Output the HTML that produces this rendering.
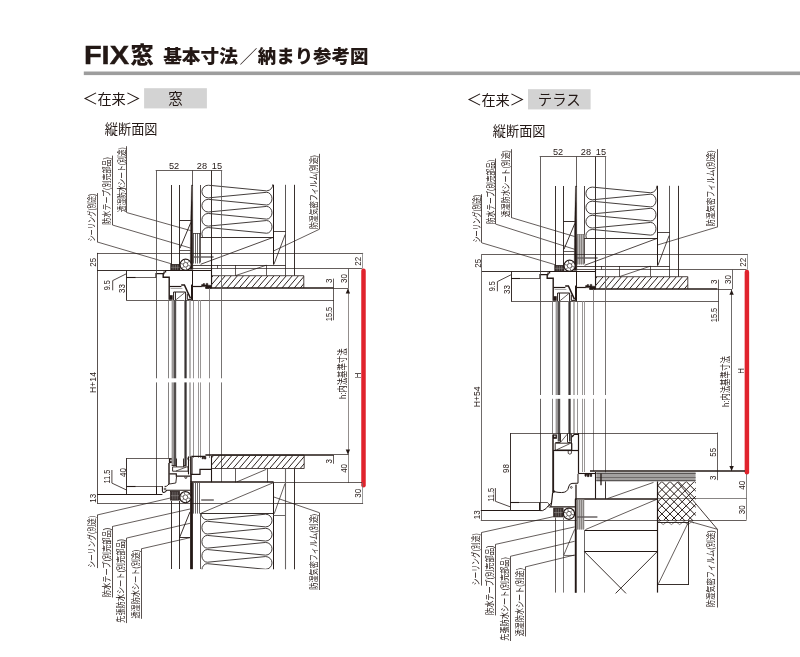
<!DOCTYPE html>
<html lang="ja"><head><meta charset="utf-8"><title>FIX窓 基本寸法／納まり参考図</title>
<style>
html,body{margin:0;padding:0;background:#fff;}
body{width:800px;height:657px;overflow:hidden;font-family:"Liberation Sans","Noto Sans CJK JP",sans-serif;}
svg{display:block;position:absolute;left:0;top:0;will-change:transform;}
svg text{font-family:"Liberation Sans","Noto Sans CJK JP",sans-serif;}
</style></head><body>
<svg width="800" height="657" viewBox="0 0 800 657">
<text transform="translate(83.9 63.6) scale(1.09 1)" font-size="26.6" font-weight="bold" fill="#231815" stroke="#231815" stroke-width="0.45">FIX</text>
<text x="130.60" y="62.90" font-size="23.2" font-weight="900" fill="#231815">窓</text>
<text x="163.20" y="63.40" font-size="18.7" font-weight="900" fill="#231815">基本寸法</text>
<text x="239.50" y="63.20" font-size="18" font-weight="300" fill="#231815">／</text>
<text x="257.80" y="63.40" font-size="18.45" font-weight="900" fill="#231815">納まり参考図</text>
<rect x="83.80" y="71.50" width="716.20" height="3.60" fill="#9d9d9d" stroke="none" stroke-width="0.6" />
<path d="M96.10 92.90 L85.10 98.50 L96.10 104.10" stroke="#231815" stroke-width="1.05" fill="none" stroke-linejoin="miter"/>
<text x="97.40" y="103.70" font-size="14.2" fill="#231815">在来</text>
<path d="M127.40 92.90 L138.40 98.50 L127.40 104.10" stroke="#231815" stroke-width="1.05" fill="none" stroke-linejoin="miter"/>
<rect x="144.10" y="88.20" width="62.80" height="20.20" fill="#d3d3d3" stroke="none" stroke-width="0.6" />
<text x="175.50" y="103.70" font-size="14.4" text-anchor="middle" fill="#231815">窓</text>
<path d="M480.10 93.90 L469.10 99.50 L480.10 105.10" stroke="#231815" stroke-width="1.05" fill="none" stroke-linejoin="miter"/>
<text x="481.40" y="104.70" font-size="14.2" fill="#231815">在来</text>
<path d="M511.40 93.90 L522.40 99.50 L511.40 105.10" stroke="#231815" stroke-width="1.05" fill="none" stroke-linejoin="miter"/>
<rect x="528.00" y="89.20" width="62.60" height="20.20" fill="#d3d3d3" stroke="none" stroke-width="0.6" />
<text x="559.30" y="104.70" font-size="14.4" text-anchor="middle" fill="#231815">テラス</text>
<text x="104.80" y="134.00" font-size="13.2" fill="#231815">縦断面図</text>
<text x="492.80" y="135.80" font-size="13.2" fill="#231815">縦断面図</text>
<g transform="translate(0.00 0.00)">
<line x1="155.70" y1="170.50" x2="222.20" y2="170.50" stroke="#231815" stroke-width="0.7"/>
<text x="174.00" y="168.60" font-size="9.2" text-anchor="middle" fill="#231815">52</text>
<text x="201.90" y="168.60" font-size="9.2" text-anchor="middle" fill="#231815">28</text>
<text x="216.90" y="168.60" font-size="9.2" text-anchor="middle" fill="#231815">15</text>
<line x1="192.50" y1="170.50" x2="192.50" y2="186.00" stroke="#231815" stroke-width="0.7"/>
<line x1="211.50" y1="170.50" x2="211.50" y2="253.00" stroke="#231815" stroke-width="0.9"/>
<line x1="171.50" y1="185.00" x2="171.50" y2="265.20" stroke="#231815" stroke-width="0.9"/>
<line x1="179.50" y1="185.00" x2="179.50" y2="265.00" stroke="#231815" stroke-width="0.9"/>
<line x1="200.50" y1="185.00" x2="200.50" y2="237.10" stroke="#231815" stroke-width="0.8"/>
<path d="M191.50 185.00 L192.60 185.00 L192.90 269.60 L190.20 269.60 L190.60 222.00 Z" stroke="#231815" stroke-width="0.3" fill="#231815" stroke-linejoin="miter"/>
<line x1="179.60" y1="220.50" x2="190.80" y2="220.50" stroke="#231815" stroke-width="0.9"/>
<line x1="190.80" y1="222.50" x2="180.00" y2="248.20" stroke="#231815" stroke-width="0.9"/>
<line x1="179.60" y1="250.50" x2="190.50" y2="250.50" stroke="#231815" stroke-width="0.7"/>
<line x1="193.00" y1="233.50" x2="200.60" y2="233.50" stroke="#231815" stroke-width="0.7"/>
<path d="M193.50 233.10 V263.50 M195.50 233.10 V263.50 M197.50 233.10 V263.50 M199.50 233.10 V263.50" stroke="#3a3635" stroke-width="0.75" fill="none" />
<line x1="200.50" y1="237.10" x2="200.50" y2="262.50" stroke="#231815" stroke-width="0.7"/>
<line x1="193.00" y1="257.00" x2="213.60" y2="257.00" stroke="#5f5a59" stroke-width="1.4"/>
<clipPath id="ic1"><rect x="200.90" y="184.30" width="72.60" height="52.60"/></clipPath>
<path d="M273.00 183.68 Q272.60 190.28 266.60 190.88 L208.30 185.20 A6.40 6.35 0 0 0 208.30 197.90 L266.60 192.30 A5.40 6.35 0 0 1 266.60 205.00 L208.30 199.32 A6.40 6.35 0 0 0 208.30 212.02 L266.60 206.42 A5.40 6.35 0 0 1 266.60 219.12 L208.30 213.44 A6.40 6.35 0 0 0 208.30 226.14 L266.60 220.54 A5.40 6.35 0 0 1 266.60 233.24 L208.30 227.56 A6.40 6.35 0 0 0 208.30 240.26" stroke="#3a3432" stroke-width="0.95" fill="none" clip-path="url(#ic1)" stroke-linejoin="round"/>
<line x1="200.40" y1="237.50" x2="273.40" y2="237.50" stroke="#231815" stroke-width="0.9"/>
<line x1="273.50" y1="184.80" x2="273.50" y2="264.60" stroke="#231815" stroke-width="1"/>
<line x1="285.50" y1="184.80" x2="285.50" y2="275.60" stroke="#5a5655" stroke-width="1"/>
<line x1="294.50" y1="184.80" x2="294.50" y2="275.60" stroke="#231815" stroke-width="0.9"/>
<line x1="273.50" y1="231.50" x2="285.80" y2="231.50" stroke="#231815" stroke-width="0.8"/>
<line x1="285.20" y1="234.50" x2="273.90" y2="264.40" stroke="#231815" stroke-width="0.8"/>
<line x1="192.80" y1="265.50" x2="285.60" y2="265.50" stroke="#231815" stroke-width="0.8"/>
<line x1="273.40" y1="237.30" x2="200.60" y2="264.30" stroke="#231815" stroke-width="0.8"/>
<line x1="217.50" y1="265.00" x2="217.50" y2="268.60" stroke="#231815" stroke-width="0.7"/>
<line x1="235.50" y1="265.00" x2="235.50" y2="275.60" stroke="#231815" stroke-width="0.7"/>
<line x1="266.50" y1="265.00" x2="266.50" y2="275.60" stroke="#231815" stroke-width="0.7"/>
<line x1="192.80" y1="268.50" x2="361.90" y2="268.50" stroke="#231815" stroke-width="0.7"/>
<line x1="97.10" y1="253.50" x2="363.10" y2="253.50" stroke="#231815" stroke-width="0.7"/>
<clipPath id="hc2"><rect x="211.60" y="275.70" width="92.20" height="12.30"/></clipPath>
<path d="M202.64 288.00 L213.10 275.70 M208.74 288.00 L219.20 275.70 M214.84 288.00 L225.30 275.70 M220.94 288.00 L231.40 275.70 M227.04 288.00 L237.50 275.70 M233.14 288.00 L243.60 275.70 M239.24 288.00 L249.70 275.70 M245.34 288.00 L255.80 275.70 M251.44 288.00 L261.90 275.70 M257.54 288.00 L268.00 275.70 M263.64 288.00 L274.10 275.70 M269.75 288.00 L280.20 275.70 M275.85 288.00 L286.30 275.70 M281.95 288.00 L292.40 275.70 M288.05 288.00 L298.50 275.70 M294.15 288.00 L304.60 275.70 M300.25 288.00 L310.70 275.70" stroke="#231815" stroke-width="0.95" fill="none" clip-path="url(#hc2)"/>
<path d="M211.60 288.00 L211.60 275.70 L303.80 275.70 L303.80 288.00" stroke="#231815" stroke-width="0.8" fill="none" stroke-linejoin="miter"/>
<line x1="205.40" y1="288.00" x2="333.50" y2="288.00" stroke="#231815" stroke-width="1.5"/>
<line x1="333.50" y1="288.50" x2="348.20" y2="288.50" stroke="#231815" stroke-width="0.7"/>
<line x1="319.50" y1="153.80" x2="319.50" y2="229.40" stroke="#231815" stroke-width="0.75"/>
<text transform="translate(316.90 229.10) rotate(-90) scale(0.784 1)" font-size="8.9" fill="#231815">防湿気密フィルム(別途)</text>
<line x1="319.10" y1="229.40" x2="273.50" y2="251.00" stroke="#231815" stroke-width="0.7"/>
<line x1="266.30" y1="265.20" x2="235.60" y2="275.60" stroke="#231815" stroke-width="0.7"/>
<line x1="362.50" y1="252.90" x2="362.50" y2="268.70" stroke="#6e6e6e" stroke-width="0.7"/>
<text transform="translate(361.24 261.30) rotate(-90) scale(0.83 1)" font-size="9.6" text-anchor="middle" fill="#231815">22</text>
<line x1="348.50" y1="268.70" x2="348.50" y2="288.00" stroke="#4a4544" stroke-width="0.8"/>
<text transform="translate(346.64 278.50) rotate(-90) scale(0.83 1)" font-size="9.6" text-anchor="middle" fill="#231815">30</text>
<line x1="333.50" y1="278.60" x2="333.50" y2="320.20" stroke="#231815" stroke-width="0.7"/>
<text transform="translate(332.14 280.80) rotate(-90) scale(0.83 1)" font-size="9.6" text-anchor="middle" fill="#231815">3</text>
<line x1="126.50" y1="300.50" x2="333.80" y2="300.50" stroke="#231815" stroke-width="0.7"/>
<text transform="translate(332.14 314.00) rotate(-90) scale(0.78 1)" font-size="9.6" text-anchor="middle" fill="#231815">15.5</text>
<text transform="translate(96.04 262.20) rotate(-90) scale(0.83 1)" font-size="9.6" text-anchor="middle" fill="#231815">25</text>
<line x1="97.10" y1="270.50" x2="171.00" y2="270.50" stroke="#231815" stroke-width="0.9"/>
<line x1="126.50" y1="270.50" x2="126.50" y2="300.50" stroke="#231815" stroke-width="0.9"/>
<line x1="126.50" y1="277.50" x2="135.80" y2="277.50" stroke="#231815" stroke-width="1.1"/>
<line x1="135.80" y1="277.50" x2="156.30" y2="277.50" stroke="#231815" stroke-width="0.7"/>
<path d="M126.50 273.70 L112.70 280.60 L112.70 290.30" stroke="#231815" stroke-width="0.8" fill="none" stroke-linejoin="miter"/>
<text transform="translate(110.04 285.20) rotate(-90) scale(0.76 1)" font-size="9.6" text-anchor="middle" fill="#231815">9.5</text>
<text transform="translate(125.04 288.50) rotate(-90) scale(0.83 1)" font-size="9.6" text-anchor="middle" fill="#231815">33</text>
<line x1="126.50" y1="146.20" x2="126.50" y2="212.60" stroke="#231815" stroke-width="0.75"/>
<text transform="translate(124.60 212.30) rotate(-90) scale(0.758 1)" font-size="8.9" fill="#231815">透湿防水シート(別途)</text>
<line x1="126.80" y1="212.60" x2="190.60" y2="230.60" stroke="#231815" stroke-width="0.7"/>
<line x1="112.50" y1="155.60" x2="112.50" y2="225.00" stroke="#231815" stroke-width="0.75"/>
<text transform="translate(110.20 224.70) rotate(-90) scale(0.793 1)" font-size="8.9" fill="#231815">防水テープ(別売部品)</text>
<line x1="112.40" y1="225.00" x2="190.60" y2="248.10" stroke="#231815" stroke-width="0.7"/>
<line x1="97.50" y1="193.10" x2="97.50" y2="241.90" stroke="#231815" stroke-width="0.75"/>
<text transform="translate(94.80 241.60) rotate(-90) scale(0.699 1)" font-size="8.9" fill="#231815">シーリング(別途)</text>
<line x1="97.00" y1="241.90" x2="171.30" y2="263.80" stroke="#231815" stroke-width="0.7"/>
<rect x="170.80" y="264.40" width="9.20" height="5.80" fill="#39302f" stroke="none" stroke-width="0.6" />
<path d="M173.10 264.40 V270.20 M175.40 264.40 V270.20 M177.70 264.40 V270.20 M170.80 267.30 H180.00" stroke="#a9a5a4" stroke-width="0.45" fill="none" />
<rect x="170.80" y="264.40" width="9.20" height="5.80" fill="none" stroke="#231815" stroke-width="0.7" />
<circle cx="185.60" cy="264.80" r="5.60" fill="#fff" stroke="#231815" stroke-width="1.25"/>
<circle cx="185.60" cy="264.80" r="2.35" fill="#fff" stroke="#231815" stroke-width="0.7"/>
<path d="M188.30 265.52 L190.58 266.13 M186.32 267.50 L186.93 269.78 M183.62 266.78 L181.96 268.44 M182.90 264.08 L180.62 263.47 M184.88 262.10 L184.27 259.82 M187.58 262.82 L189.24 261.16" stroke="#4a4544" stroke-width="0.8" fill="none" />
<line x1="165.20" y1="270.50" x2="211.40" y2="270.50" stroke="#231815" stroke-width="1.2"/>
<path d="M156.00 277.40 L156.00 273.60 L164.00 273.60 L164.00 272.00 L165.60 272.00 L165.60 270.60" stroke="#231815" stroke-width="1.2" fill="none" stroke-linejoin="miter"/>
<path d="M163.20 274.00 L163.20 277.20 L169.20 277.20 L169.20 299.80" stroke="#231815" stroke-width="1.4" fill="none" stroke-linejoin="miter"/>
<rect x="169.50" y="295.20" width="3.20" height="4.60" fill="#231815" stroke="none" stroke-width="0.6" />
<line x1="169.60" y1="286.50" x2="181.40" y2="286.50" stroke="#231815" stroke-width="1.2"/>
<line x1="170.60" y1="288.50" x2="182.40" y2="288.50" stroke="#8a8685" stroke-width="0.7"/>
<path d="M181.20 284.90 L184.40 284.90 L190.50 298.40" stroke="#231815" stroke-width="1.5" fill="none" stroke-linejoin="miter"/>
<line x1="191.50" y1="284.60" x2="191.50" y2="299.80" stroke="#231815" stroke-width="1"/>
<path d="M187.30 293.80 L187.30 299.40 L191.20 299.40" stroke="#231815" stroke-width="1" fill="none" stroke-linejoin="miter"/>
<line x1="192.50" y1="270.60" x2="192.50" y2="300.20" stroke="#231815" stroke-width="1"/>
<line x1="211.50" y1="252.90" x2="211.50" y2="284.40" stroke="#231815" stroke-width="1.1"/>
<line x1="192.80" y1="286.50" x2="201.80" y2="286.50" stroke="#231815" stroke-width="1.2"/>
<path d="M201.6 286.6 V284.6 h1.6 v-1.0 h1.4 v1.4 h1.6 v-1.6 h1.6 v1.8 h3.6 v3.0 h-5.8 v-1.6 Z" stroke="#231815" stroke-width="0.5" fill="#231815" />
<path d="M173.60 300.00 L173.60 292.00 L185.60 292.00 L185.60 300.00" stroke="#231815" stroke-width="1" fill="none" stroke-linejoin="miter"/>
<line x1="175.50" y1="292.00" x2="175.50" y2="300.00" stroke="#231815" stroke-width="0.9"/>
<line x1="176.20" y1="299.60" x2="184.80" y2="292.60" stroke="#231815" stroke-width="0.7"/>
</g>
<g transform="translate(0.00 0)">
<line x1="156.50" y1="170.50" x2="156.50" y2="494.20" stroke="#4a4645" stroke-width="0.85"/>
<line x1="168.50" y1="300.20" x2="168.50" y2="458.00" stroke="#6f6b6a" stroke-width="0.85"/>
<rect x="171.60" y="300.20" width="2.10" height="157.80" fill="#9c9998" stroke="none" stroke-width="0.6" />
<rect x="173.70" y="300.20" width="2.50" height="157.80" fill="#524e4d" stroke="none" stroke-width="0.6" />
<line x1="184.50" y1="300.20" x2="184.50" y2="458.00" stroke="#8a8685" stroke-width="1"/>
<rect x="185.10" y="300.20" width="1.50" height="157.80" fill="#231f1e" stroke="none" stroke-width="0.6" />
<line x1="190.00" y1="300.20" x2="190.00" y2="458.00" stroke="#9a9796" stroke-width="1.4"/>
<line x1="193.50" y1="300.20" x2="193.50" y2="458.00" stroke="#6a6665" stroke-width="0.7"/>
<line x1="198.50" y1="300.20" x2="198.50" y2="458.00" stroke="#9a9796" stroke-width="1"/>
<line x1="200.50" y1="300.20" x2="200.50" y2="458.00" stroke="#9a9796" stroke-width="1"/>
<line x1="209.50" y1="288.20" x2="209.50" y2="458.00" stroke="#777372" stroke-width="0.85"/>
<line x1="221.50" y1="170.50" x2="221.50" y2="482.00" stroke="#5f5b5a" stroke-width="0.85"/>
<rect x="150.00" y="378.30" width="76.00" height="4.10" fill="#fff" stroke="none" stroke-width="0.6" />
</g>
<line x1="363.50" y1="270.70" x2="363.50" y2="485.30" stroke="#e0232d" stroke-width="4.5" stroke-linecap="round"/>
<line x1="348.50" y1="288.00" x2="348.50" y2="482.90" stroke="#77716f" stroke-width="0.8"/>
<path d="M347.90 288.60 L345.70 293.60 L350.10 293.60 Z" stroke="#231815" stroke-width="0" fill="#231815" stroke-linejoin="miter"/>
<path d="M347.90 454.60 L345.70 449.60 L350.10 449.60 Z" stroke="#231815" stroke-width="0" fill="#231815" stroke-linejoin="miter"/>
<text transform="translate(345.60 398.90) rotate(-90) scale(0.755 1)" font-size="9.8" fill="#231815">h:内法基準寸法</text>
<text transform="translate(360.71 375.40) rotate(-90) scale(0.92 1)" font-size="8.4" text-anchor="middle" fill="#231815">H</text>
<line x1="97.50" y1="252.90" x2="97.50" y2="503.50" stroke="#231815" stroke-width="0.75"/>
<text transform="translate(95.81 382.50) rotate(-90) scale(0.88 1)" font-size="9.8" text-anchor="middle" fill="#231815">H+14</text>
<line x1="126.50" y1="458.50" x2="169.20" y2="458.50" stroke="#231815" stroke-width="0.7"/>
<line x1="126.50" y1="458.10" x2="126.50" y2="494.30" stroke="#231815" stroke-width="0.9"/>
<line x1="126.50" y1="486.50" x2="135.80" y2="486.50" stroke="#231815" stroke-width="1.1"/>
<line x1="135.80" y1="486.50" x2="162.60" y2="486.50" stroke="#231815" stroke-width="0.7"/>
<path d="M126.50 490.00 L111.90 483.10 L111.90 470.00" stroke="#231815" stroke-width="0.8" fill="none" stroke-linejoin="miter"/>
<text transform="translate(110.04 476.60) rotate(-90) scale(0.78 1)" font-size="9.6" text-anchor="middle" fill="#231815">11.5</text>
<text transform="translate(126.04 472.50) rotate(-90) scale(0.83 1)" font-size="9.6" text-anchor="middle" fill="#231815">40</text>
<line x1="97.10" y1="494.50" x2="162.40" y2="494.50" stroke="#231815" stroke-width="1"/>
<line x1="97.10" y1="503.50" x2="190.20" y2="503.50" stroke="#231815" stroke-width="0.7"/>
<text transform="translate(95.74 498.20) rotate(-90) scale(0.83 1)" font-size="9.6" text-anchor="middle" fill="#231815">13</text>
<rect x="168.90" y="458.10" width="4.20" height="5.00" fill="#231815" stroke="none" stroke-width="0.6" />
<rect x="170.30" y="459.60" width="1.40" height="1.60" fill="#fff" stroke="none" stroke-width="0.6" />
<line x1="169.00" y1="463.00" x2="169.00" y2="484.00" stroke="#231815" stroke-width="1.4"/>
<line x1="156.50" y1="486.30" x2="156.50" y2="494.20" stroke="#231815" stroke-width="1"/>
<path d="M162.4 486.3 V490.6 Q162.6 493.8 165.6 491.6 L166.6 490.2 H190.6" stroke="#231815" stroke-width="1.1" fill="none" />
<path d="M169.4 484.0 Q167.8 484.6 166.4 486.4 L164.6 486.4" stroke="#231815" stroke-width="1" fill="none" />
<circle cx="165.00" cy="489.00" r="0.90" fill="#fff" stroke="#231815" stroke-width="0.7"/>
<rect x="171.60" y="457.80" width="2.10" height="7.20" fill="#9c9998" stroke="none" stroke-width="0.6" />
<rect x="173.70" y="457.80" width="2.50" height="7.20" fill="#524e4d" stroke="none" stroke-width="0.6" />
<rect x="185.10" y="457.80" width="1.50" height="7.20" fill="#231f1e" stroke="none" stroke-width="0.6" />
<line x1="184.50" y1="457.80" x2="184.50" y2="465.00" stroke="#8a8685" stroke-width="1"/>
<line x1="171.60" y1="465.50" x2="176.20" y2="465.50" stroke="#231815" stroke-width="0.9"/>
<line x1="184.00" y1="465.50" x2="186.60" y2="465.50" stroke="#231815" stroke-width="0.9"/>
<path d="M172.60 466.90 L188.10 466.90 L188.10 471.20 L172.60 471.20 Z" stroke="#231815" stroke-width="0.9" fill="none" stroke-linejoin="miter"/>
<line x1="176.00" y1="471.00" x2="186.00" y2="467.20" stroke="#231815" stroke-width="0.7"/>
<line x1="176.50" y1="458.50" x2="176.50" y2="466.90" stroke="#231815" stroke-width="0.9"/>
<line x1="183.50" y1="458.50" x2="183.50" y2="466.90" stroke="#231815" stroke-width="0.9"/>
<path d="M169.40 473.80 L176.30 473.80 L176.30 476.20 L190.40 476.20" stroke="#231815" stroke-width="1.2" fill="none" stroke-linejoin="miter"/>
<path d="M169.40 484.00 L175.80 483.00 L176.60 476.40" stroke="#231815" stroke-width="0.9" fill="none" stroke-linejoin="miter"/>
<line x1="188.50" y1="456.40" x2="188.50" y2="474.40" stroke="#231815" stroke-width="1.1"/>
<line x1="190.50" y1="456.40" x2="190.50" y2="474.40" stroke="#231815" stroke-width="0.9"/>
<path d="M184.2 477.2 h1.0 v1.2 h1.2 v-1.2 h1.0" stroke="#231815" stroke-width="0.7" fill="none" />
<path d="M187.2 458.2 h0.8 v1.8 h1.4" stroke="#231815" stroke-width="0.7" fill="none" />
<path d="M191.90 474.40 L191.90 456.30 L205.60 456.30" stroke="#231815" stroke-width="1.25" fill="none" stroke-linejoin="miter"/>
<line x1="211.50" y1="456.00" x2="211.50" y2="482.20" stroke="#231815" stroke-width="1.1"/>
<path d="M190.40 474.40 L200.00 474.40 L200.00 469.40 L211.90 469.40" stroke="#231815" stroke-width="1.25" fill="none" stroke-linejoin="miter"/>
<line x1="191.00" y1="474.40" x2="191.00" y2="482.40" stroke="#231815" stroke-width="1.6"/>
<path d="M202.2 456.4 v2.4 h1.2 v-1.6 h1.0 v1.8 h1.4 v-2.4" stroke="#231815" stroke-width="0.7" fill="#231815" />
<clipPath id="hc3"><rect x="212.00" y="455.60" width="92.20" height="12.80"/></clipPath>
<path d="M202.62 468.40 L213.50 455.60 M208.72 468.40 L219.60 455.60 M214.82 468.40 L225.70 455.60 M220.92 468.40 L231.80 455.60 M227.02 468.40 L237.90 455.60 M233.12 468.40 L244.00 455.60 M239.22 468.40 L250.10 455.60 M245.32 468.40 L256.20 455.60 M251.42 468.40 L262.30 455.60 M257.52 468.40 L268.40 455.60 M263.62 468.40 L274.50 455.60 M269.72 468.40 L280.60 455.60 M275.82 468.40 L286.70 455.60 M281.92 468.40 L292.80 455.60 M288.02 468.40 L298.90 455.60 M294.12 468.40 L305.00 455.60 M300.22 468.40 L311.10 455.60" stroke="#231815" stroke-width="0.95" fill="none" clip-path="url(#hc3)"/>
<path d="M211.90 455.20 L304.20 455.20 L304.20 468.50 L211.90 468.50" stroke="#231815" stroke-width="0.8" fill="none" stroke-linejoin="miter"/>
<line x1="205.40" y1="455.00" x2="333.70" y2="455.00" stroke="#231815" stroke-width="1.5"/>
<line x1="333.70" y1="454.50" x2="348.60" y2="454.50" stroke="#231815" stroke-width="0.7"/>
<line x1="190.40" y1="482.00" x2="273.60" y2="482.00" stroke="#231815" stroke-width="1.3"/>
<line x1="273.60" y1="482.50" x2="361.90" y2="482.50" stroke="#231815" stroke-width="0.7"/>
<line x1="235.50" y1="468.50" x2="235.50" y2="482.40" stroke="#231815" stroke-width="0.7"/>
<line x1="267.50" y1="468.50" x2="267.50" y2="482.40" stroke="#231815" stroke-width="0.7"/>
<line x1="266.20" y1="469.40" x2="236.90" y2="481.90" stroke="#231815" stroke-width="0.7"/>
<rect x="190.10" y="482.40" width="2.80" height="86.80" fill="#231815" stroke="none" stroke-width="0.6" />
<path d="M193.50 483.00 V513.60 M195.50 483.00 V513.60 M197.50 483.00 V513.60 M199.50 483.00 V513.60" stroke="#3a3635" stroke-width="0.75" fill="none" />
<line x1="201.20" y1="500.00" x2="213.80" y2="500.00" stroke="#5f5a59" stroke-width="1.4"/>
<line x1="171.50" y1="501.00" x2="171.50" y2="569.00" stroke="#231815" stroke-width="0.9"/>
<line x1="179.50" y1="501.00" x2="179.50" y2="569.00" stroke="#231815" stroke-width="0.9"/>
<line x1="200.50" y1="513.10" x2="200.50" y2="569.00" stroke="#231815" stroke-width="0.7"/>
<line x1="190.00" y1="511.90" x2="179.60" y2="537.50" stroke="#231815" stroke-width="0.9"/>
<line x1="179.60" y1="537.50" x2="190.00" y2="537.50" stroke="#231815" stroke-width="0.9"/>
<line x1="200.40" y1="513.50" x2="273.50" y2="513.50" stroke="#231815" stroke-width="0.9"/>
<line x1="273.50" y1="482.60" x2="201.20" y2="513.10" stroke="#231815" stroke-width="0.7"/>
<line x1="273.50" y1="482.40" x2="273.50" y2="569.30" stroke="#231815" stroke-width="1"/>
<line x1="285.50" y1="468.50" x2="285.50" y2="569.30" stroke="#6a6665" stroke-width="1.1"/>
<line x1="294.50" y1="468.50" x2="294.50" y2="569.30" stroke="#231815" stroke-width="0.9"/>
<line x1="273.50" y1="515.50" x2="285.80" y2="515.50" stroke="#6a6665" stroke-width="1"/>
<line x1="285.00" y1="483.60" x2="274.20" y2="513.80" stroke="#231815" stroke-width="0.7"/>
<clipPath id="ic4"><rect x="200.90" y="513.30" width="72.60" height="56.00"/></clipPath>
<path d="M200.90 512.68 Q201.30 519.28 207.30 519.88 L265.60 514.20 A6.40 6.35 0 0 1 265.60 526.90 L207.30 521.30 A5.40 6.35 0 0 0 207.30 534.00 L265.60 528.32 A6.40 6.35 0 0 1 265.60 541.02 L207.30 535.42 A5.40 6.35 0 0 0 207.30 548.12 L265.60 542.44 A6.40 6.35 0 0 1 265.60 555.14 L207.30 549.54 A5.40 6.35 0 0 0 207.30 562.24 L265.60 556.56 A6.40 6.35 0 0 1 265.60 569.26 L207.30 563.66 A5.40 6.35 0 0 0 207.30 576.36 L265.60 570.68 A6.40 6.35 0 0 1 265.60 583.38 L207.30 577.78 A5.40 6.35 0 0 0 207.30 590.48" stroke="#3a3432" stroke-width="0.95" fill="none" clip-path="url(#ic4)" stroke-linejoin="round"/>
<line x1="333.50" y1="454.70" x2="333.50" y2="463.80" stroke="#231815" stroke-width="0.7"/>
<text transform="translate(332.04 461.30) rotate(-90) scale(0.83 1)" font-size="9.6" text-anchor="middle" fill="#231815">3</text>
<text transform="translate(346.64 468.40) rotate(-90) scale(0.83 1)" font-size="9.6" text-anchor="middle" fill="#231815">40</text>
<line x1="362.50" y1="482.80" x2="362.50" y2="503.40" stroke="#6e6e6e" stroke-width="0.7"/>
<text transform="translate(361.04 493.20) rotate(-90) scale(0.83 1)" font-size="9.6" text-anchor="middle" fill="#231815">30</text>
<line x1="190.20" y1="503.50" x2="363.10" y2="503.50" stroke="#231815" stroke-width="0.7"/>
<line x1="273.50" y1="496.90" x2="319.10" y2="512.60" stroke="#231815" stroke-width="0.7"/>
<line x1="319.50" y1="512.60" x2="319.50" y2="590.00" stroke="#231815" stroke-width="0.75"/>
<text transform="translate(316.90 589.70) rotate(-90) scale(0.803 1)" font-size="8.9" fill="#231815">防湿気密フィルム(別途)</text>
<rect x="170.60" y="491.30" width="8.90" height="8.80" fill="#39302f" stroke="none" stroke-width="0.6" />
<path d="M172.82 491.30 V500.10 M175.05 491.30 V500.10 M177.28 491.30 V500.10 M170.60 495.70 H179.50" stroke="#a9a5a4" stroke-width="0.45" fill="none" />
<rect x="170.60" y="491.30" width="8.90" height="8.80" fill="none" stroke="#231815" stroke-width="0.7" />
<circle cx="185.40" cy="497.20" r="5.60" fill="#fff" stroke="#231815" stroke-width="1.25"/>
<circle cx="185.40" cy="497.20" r="2.35" fill="#fff" stroke="#231815" stroke-width="0.7"/>
<path d="M188.10 497.92 L190.38 498.53 M186.12 499.90 L186.73 502.18 M183.42 499.18 L181.76 500.84 M182.70 496.48 L180.42 495.87 M184.68 494.50 L184.07 492.22 M187.38 495.22 L189.04 493.56" stroke="#4a4544" stroke-width="0.8" fill="none" />
<line x1="97.50" y1="515.00" x2="97.50" y2="568.10" stroke="#231815" stroke-width="0.75"/>
<text transform="translate(94.90 567.80) rotate(-90) scale(0.762 1)" font-size="8.9" fill="#231815">シーリング(別途)</text>
<line x1="97.10" y1="515.00" x2="170.40" y2="498.00" stroke="#231815" stroke-width="0.7"/>
<line x1="112.50" y1="526.50" x2="112.50" y2="597.50" stroke="#231815" stroke-width="0.75"/>
<text transform="translate(110.10 597.20) rotate(-90) scale(0.812 1)" font-size="8.9" fill="#231815">防水テープ(別売部品)</text>
<line x1="112.30" y1="526.50" x2="190.00" y2="509.00" stroke="#231815" stroke-width="0.7"/>
<line x1="126.50" y1="538.10" x2="126.50" y2="623.10" stroke="#231815" stroke-width="0.75"/>
<text transform="translate(124.30 622.80) rotate(-90) scale(0.808 1)" font-size="8.9" fill="#231815">先張防水シート(別売部品)</text>
<line x1="126.50" y1="538.10" x2="190.00" y2="523.30" stroke="#231815" stroke-width="0.7"/>
<line x1="141.50" y1="548.80" x2="141.50" y2="618.80" stroke="#231815" stroke-width="0.75"/>
<text transform="translate(139.10 618.50) rotate(-90) scale(0.801 1)" font-size="8.9" fill="#231815">透湿防水シート(別途)</text>
<line x1="141.30" y1="548.80" x2="190.00" y2="537.70" stroke="#231815" stroke-width="0.7"/>
<g transform="translate(384.00 1.00)">
<line x1="155.70" y1="155.50" x2="222.20" y2="155.50" stroke="#231815" stroke-width="0.7"/>
<text x="174.00" y="153.80" font-size="9.2" text-anchor="middle" fill="#231815">52</text>
<text x="201.90" y="153.80" font-size="9.2" text-anchor="middle" fill="#231815">28</text>
<text x="216.90" y="153.80" font-size="9.2" text-anchor="middle" fill="#231815">15</text>
<line x1="192.50" y1="155.70" x2="192.50" y2="186.00" stroke="#231815" stroke-width="0.7"/>
<line x1="211.50" y1="155.70" x2="211.50" y2="253.00" stroke="#231815" stroke-width="0.9"/>
<line x1="171.50" y1="185.00" x2="171.50" y2="265.20" stroke="#231815" stroke-width="0.9"/>
<line x1="179.50" y1="185.00" x2="179.50" y2="265.00" stroke="#231815" stroke-width="0.9"/>
<line x1="200.50" y1="185.00" x2="200.50" y2="237.10" stroke="#231815" stroke-width="0.8"/>
<path d="M191.50 185.00 L192.60 185.00 L192.90 269.60 L190.20 269.60 L190.60 222.00 Z" stroke="#231815" stroke-width="0.3" fill="#231815" stroke-linejoin="miter"/>
<line x1="179.60" y1="220.50" x2="190.80" y2="220.50" stroke="#231815" stroke-width="0.9"/>
<line x1="190.80" y1="222.50" x2="180.00" y2="248.20" stroke="#231815" stroke-width="0.9"/>
<line x1="179.60" y1="250.50" x2="190.50" y2="250.50" stroke="#231815" stroke-width="0.7"/>
<line x1="193.00" y1="233.50" x2="200.60" y2="233.50" stroke="#231815" stroke-width="0.7"/>
<rect x="193.00" y="233.40" width="7.60" height="30.00" fill="#b9b6b5" stroke="none" stroke-width="0.6" />
<path d="M193.50 233.10 V263.50 M195.50 233.10 V263.50 M197.50 233.10 V263.50 M199.50 233.10 V263.50" stroke="#77716f" stroke-width="0.75" fill="none" />
<line x1="200.50" y1="237.10" x2="200.50" y2="262.50" stroke="#231815" stroke-width="0.7"/>
<line x1="193.00" y1="257.00" x2="213.60" y2="257.00" stroke="#5f5a59" stroke-width="1.4"/>
<clipPath id="ic5"><rect x="200.90" y="184.30" width="72.60" height="52.60"/></clipPath>
<path d="M273.00 184.58 Q272.60 191.18 266.60 191.78 L208.30 186.10 A6.40 6.35 0 0 0 208.30 198.80 L266.60 193.20 A5.40 6.35 0 0 1 266.60 205.90 L208.30 200.22 A6.40 6.35 0 0 0 208.30 212.92 L266.60 207.32 A5.40 6.35 0 0 1 266.60 220.02 L208.30 214.34 A6.40 6.35 0 0 0 208.30 227.04 L266.60 221.44 A5.40 6.35 0 0 1 266.60 234.14 L208.30 228.46 A6.40 6.35 0 0 0 208.30 241.16" stroke="#3a3432" stroke-width="0.95" fill="none" clip-path="url(#ic5)" stroke-linejoin="round"/>
<line x1="200.40" y1="237.50" x2="273.40" y2="237.50" stroke="#231815" stroke-width="0.9"/>
<line x1="273.50" y1="184.80" x2="273.50" y2="264.60" stroke="#231815" stroke-width="1"/>
<line x1="285.50" y1="184.80" x2="285.50" y2="275.60" stroke="#5a5655" stroke-width="1"/>
<line x1="294.50" y1="184.80" x2="294.50" y2="275.60" stroke="#231815" stroke-width="0.9"/>
<line x1="273.50" y1="231.50" x2="285.80" y2="231.50" stroke="#231815" stroke-width="0.8"/>
<line x1="285.20" y1="234.50" x2="273.90" y2="264.40" stroke="#231815" stroke-width="0.8"/>
<line x1="192.80" y1="265.50" x2="285.60" y2="265.50" stroke="#231815" stroke-width="0.8"/>
<line x1="273.40" y1="237.30" x2="200.60" y2="264.30" stroke="#231815" stroke-width="0.8"/>
<line x1="217.50" y1="265.00" x2="217.50" y2="268.60" stroke="#231815" stroke-width="0.7"/>
<line x1="235.50" y1="265.00" x2="235.50" y2="275.60" stroke="#231815" stroke-width="0.7"/>
<line x1="266.50" y1="265.00" x2="266.50" y2="275.60" stroke="#231815" stroke-width="0.7"/>
<line x1="192.80" y1="268.50" x2="362.50" y2="268.50" stroke="#231815" stroke-width="0.7"/>
<line x1="97.80" y1="253.50" x2="363.70" y2="253.50" stroke="#231815" stroke-width="0.7"/>
<clipPath id="hc6"><rect x="211.60" y="275.70" width="92.20" height="12.30"/></clipPath>
<path d="M202.64 288.00 L213.10 275.70 M208.74 288.00 L219.20 275.70 M214.84 288.00 L225.30 275.70 M220.94 288.00 L231.40 275.70 M227.04 288.00 L237.50 275.70 M233.14 288.00 L243.60 275.70 M239.24 288.00 L249.70 275.70 M245.34 288.00 L255.80 275.70 M251.44 288.00 L261.90 275.70 M257.54 288.00 L268.00 275.70 M263.64 288.00 L274.10 275.70 M269.75 288.00 L280.20 275.70 M275.85 288.00 L286.30 275.70 M281.95 288.00 L292.40 275.70 M288.05 288.00 L298.50 275.70 M294.15 288.00 L304.60 275.70 M300.25 288.00 L310.70 275.70" stroke="#231815" stroke-width="0.95" fill="none" clip-path="url(#hc6)"/>
<path d="M211.60 288.00 L211.60 275.70 L303.80 275.70 L303.80 288.00" stroke="#231815" stroke-width="0.8" fill="none" stroke-linejoin="miter"/>
<line x1="205.40" y1="288.00" x2="333.50" y2="288.00" stroke="#231815" stroke-width="1.5"/>
<line x1="333.50" y1="288.50" x2="348.20" y2="288.50" stroke="#231815" stroke-width="0.7"/>
<line x1="333.50" y1="148.20" x2="333.50" y2="225.80" stroke="#231815" stroke-width="0.75"/>
<text transform="translate(330.10 225.50) rotate(-90) scale(0.755 1)" font-size="9.5" fill="#231815">防湿気密フィルム(別途)</text>
<line x1="333.90" y1="225.80" x2="273.50" y2="244.00" stroke="#231815" stroke-width="0.7"/>
<line x1="266.30" y1="265.20" x2="235.60" y2="275.60" stroke="#231815" stroke-width="0.7"/>
<line x1="363.50" y1="252.90" x2="363.50" y2="268.70" stroke="#6e6e6e" stroke-width="0.7"/>
<text transform="translate(361.84 261.30) rotate(-90) scale(0.83 1)" font-size="9.6" text-anchor="middle" fill="#231815">22</text>
<line x1="348.50" y1="268.70" x2="348.50" y2="288.00" stroke="#4a4544" stroke-width="0.8"/>
<text transform="translate(347.24 278.50) rotate(-90) scale(0.83 1)" font-size="9.6" text-anchor="middle" fill="#231815">30</text>
<line x1="334.50" y1="278.60" x2="334.50" y2="320.20" stroke="#231815" stroke-width="0.7"/>
<text transform="translate(332.74 280.80) rotate(-90) scale(0.83 1)" font-size="9.6" text-anchor="middle" fill="#231815">3</text>
<line x1="127.20" y1="300.50" x2="334.40" y2="300.50" stroke="#231815" stroke-width="0.7"/>
<text transform="translate(332.74 314.00) rotate(-90) scale(0.78 1)" font-size="9.6" text-anchor="middle" fill="#231815">15.5</text>
<text transform="translate(96.74 262.20) rotate(-90) scale(0.83 1)" font-size="9.6" text-anchor="middle" fill="#231815">25</text>
<line x1="97.80" y1="270.50" x2="171.00" y2="270.50" stroke="#231815" stroke-width="0.9"/>
<line x1="127.50" y1="270.50" x2="127.50" y2="300.50" stroke="#231815" stroke-width="0.9"/>
<line x1="127.20" y1="277.50" x2="136.50" y2="277.50" stroke="#231815" stroke-width="1.1"/>
<line x1="136.50" y1="277.50" x2="156.30" y2="277.50" stroke="#231815" stroke-width="0.7"/>
<path d="M127.20 273.70 L113.40 280.60 L113.40 290.30" stroke="#231815" stroke-width="0.8" fill="none" stroke-linejoin="miter"/>
<text transform="translate(110.74 285.20) rotate(-90) scale(0.76 1)" font-size="9.6" text-anchor="middle" fill="#231815">9.5</text>
<text transform="translate(125.74 288.50) rotate(-90) scale(0.83 1)" font-size="9.6" text-anchor="middle" fill="#231815">33</text>
<line x1="127.50" y1="148.20" x2="127.50" y2="216.50" stroke="#231815" stroke-width="0.75"/>
<text transform="translate(124.60 216.20) rotate(-90) scale(0.732 1)" font-size="9.5" fill="#231815">透湿防水シート(別途)</text>
<line x1="127.00" y1="216.50" x2="190.60" y2="235.50" stroke="#231815" stroke-width="0.7"/>
<line x1="111.50" y1="157.50" x2="111.50" y2="223.20" stroke="#231815" stroke-width="0.75"/>
<text transform="translate(109.50 222.90) rotate(-90) scale(0.703 1)" font-size="9.5" fill="#231815">防水テープ(別売部品)</text>
<line x1="111.90" y1="223.20" x2="190.60" y2="248.30" stroke="#231815" stroke-width="0.7"/>
<line x1="97.50" y1="193.20" x2="97.50" y2="241.90" stroke="#231815" stroke-width="0.75"/>
<text transform="translate(95.50 241.60) rotate(-90) scale(0.654 1)" font-size="9.5" fill="#231815">シーリング(別途)</text>
<line x1="97.90" y1="241.90" x2="171.40" y2="263.80" stroke="#231815" stroke-width="0.7"/>
<rect x="170.80" y="264.40" width="9.20" height="5.80" fill="#39302f" stroke="none" stroke-width="0.6" />
<path d="M173.10 264.40 V270.20 M175.40 264.40 V270.20 M177.70 264.40 V270.20 M170.80 267.30 H180.00" stroke="#a9a5a4" stroke-width="0.45" fill="none" />
<rect x="170.80" y="264.40" width="9.20" height="5.80" fill="none" stroke="#231815" stroke-width="0.7" />
<circle cx="185.60" cy="264.80" r="5.60" fill="#fff" stroke="#231815" stroke-width="1.25"/>
<circle cx="185.60" cy="264.80" r="2.35" fill="#fff" stroke="#231815" stroke-width="0.7"/>
<path d="M188.30 265.52 L190.58 266.13 M186.32 267.50 L186.93 269.78 M183.62 266.78 L181.96 268.44 M182.90 264.08 L180.62 263.47 M184.88 262.10 L184.27 259.82 M187.58 262.82 L189.24 261.16" stroke="#4a4544" stroke-width="0.8" fill="none" />
<line x1="165.20" y1="270.50" x2="211.40" y2="270.50" stroke="#231815" stroke-width="1.2"/>
<path d="M156.00 277.40 L156.00 273.60 L164.00 273.60 L164.00 272.00 L165.60 272.00 L165.60 270.60" stroke="#231815" stroke-width="1.2" fill="none" stroke-linejoin="miter"/>
<path d="M163.20 274.00 L163.20 277.20 L169.20 277.20 L169.20 299.80" stroke="#231815" stroke-width="1.4" fill="none" stroke-linejoin="miter"/>
<rect x="169.50" y="295.20" width="3.20" height="4.60" fill="#231815" stroke="none" stroke-width="0.6" />
<line x1="169.60" y1="286.50" x2="181.40" y2="286.50" stroke="#231815" stroke-width="1.2"/>
<line x1="170.60" y1="288.50" x2="182.40" y2="288.50" stroke="#8a8685" stroke-width="0.7"/>
<path d="M181.20 284.90 L184.40 284.90 L190.50 298.40" stroke="#231815" stroke-width="1.5" fill="none" stroke-linejoin="miter"/>
<line x1="191.50" y1="284.60" x2="191.50" y2="299.80" stroke="#231815" stroke-width="1"/>
<path d="M187.30 293.80 L187.30 299.40 L191.20 299.40" stroke="#231815" stroke-width="1" fill="none" stroke-linejoin="miter"/>
<line x1="192.50" y1="270.60" x2="192.50" y2="300.20" stroke="#231815" stroke-width="1"/>
<line x1="211.50" y1="252.90" x2="211.50" y2="284.40" stroke="#231815" stroke-width="1.1"/>
<line x1="192.80" y1="286.50" x2="201.80" y2="286.50" stroke="#231815" stroke-width="1.2"/>
<path d="M201.6 286.6 V284.6 h1.6 v-1.0 h1.4 v1.4 h1.6 v-1.6 h1.6 v1.8 h3.6 v3.0 h-5.8 v-1.6 Z" stroke="#231815" stroke-width="0.5" fill="#231815" />
<path d="M173.60 300.00 L173.60 292.00 L185.60 292.00 L185.60 300.00" stroke="#231815" stroke-width="1" fill="none" stroke-linejoin="miter"/>
<line x1="175.50" y1="292.00" x2="175.50" y2="300.00" stroke="#231815" stroke-width="0.9"/>
<line x1="176.20" y1="299.60" x2="184.80" y2="292.60" stroke="#231815" stroke-width="0.7"/>
</g>
<g transform="translate(384.00 0)">
<line x1="156.50" y1="156.90" x2="156.50" y2="510.60" stroke="#4a4645" stroke-width="0.85"/>
<line x1="168.50" y1="301.40" x2="168.50" y2="433.50" stroke="#6f6b6a" stroke-width="0.85"/>
<rect x="171.60" y="301.40" width="2.10" height="132.10" fill="#9c9998" stroke="none" stroke-width="0.6" />
<rect x="173.70" y="301.40" width="2.50" height="140.10" fill="#524e4d" stroke="none" stroke-width="0.6" />
<line x1="184.50" y1="301.40" x2="184.50" y2="433.50" stroke="#8a8685" stroke-width="1"/>
<rect x="185.10" y="301.40" width="1.50" height="140.10" fill="#231f1e" stroke="none" stroke-width="0.6" />
<line x1="190.00" y1="301.40" x2="190.00" y2="433.50" stroke="#9a9796" stroke-width="1.4"/>
<line x1="193.50" y1="301.40" x2="193.50" y2="433.50" stroke="#6a6665" stroke-width="0.7"/>
<line x1="198.50" y1="301.40" x2="198.50" y2="472.00" stroke="#9a9796" stroke-width="1"/>
<line x1="200.50" y1="301.40" x2="200.50" y2="472.00" stroke="#9a9796" stroke-width="1"/>
<line x1="209.50" y1="289.40" x2="209.50" y2="471.00" stroke="#777372" stroke-width="0.85"/>
<line x1="221.50" y1="156.90" x2="221.50" y2="498.80" stroke="#5f5b5a" stroke-width="0.85"/>
<rect x="148.00" y="395.00" width="80.00" height="3.80" fill="#fff" stroke="none" stroke-width="0.6" />
</g>
<line x1="746.90" y1="272.00" x2="746.90" y2="472.20" stroke="#e0232d" stroke-width="4.5" stroke-linecap="round"/>
<line x1="731.50" y1="289.20" x2="731.50" y2="471.00" stroke="#4a4645" stroke-width="0.8"/>
<path d="M731.60 289.80 L729.40 294.80 L733.80 294.80 Z" stroke="#231815" stroke-width="0" fill="#231815" stroke-linejoin="miter"/>
<path d="M731.60 471.00 L729.40 466.00 L733.80 466.00 Z" stroke="#231815" stroke-width="0" fill="#231815" stroke-linejoin="miter"/>
<text transform="translate(729.30 407.00) rotate(-90) scale(0.761 1)" font-size="9.8" fill="#231815">h:内法基準寸法</text>
<text transform="translate(744.31 370.90) rotate(-90) scale(0.92 1)" font-size="8.4" text-anchor="middle" fill="#231815">H</text>
<line x1="481.50" y1="254.10" x2="481.50" y2="520.00" stroke="#55504f" stroke-width="0.85"/>
<text transform="translate(479.71 396.80) rotate(-90) scale(0.88 1)" font-size="9.8" text-anchor="middle" fill="#231815">H+54</text>
<line x1="510.40" y1="433.50" x2="717.50" y2="433.50" stroke="#231815" stroke-width="0.7"/>
<line x1="510.50" y1="433.10" x2="510.50" y2="510.60" stroke="#231815" stroke-width="0.9"/>
<text transform="translate(508.94 468.50) rotate(-90) scale(0.83 1)" font-size="9.6" text-anchor="middle" fill="#231815">98</text>
<line x1="510.40" y1="502.50" x2="519.60" y2="502.50" stroke="#231815" stroke-width="1.1"/>
<line x1="519.60" y1="502.50" x2="547.60" y2="502.50" stroke="#231815" stroke-width="0.7"/>
<path d="M510.40 506.90 L495.40 501.30 L495.40 488.10" stroke="#231815" stroke-width="0.8" fill="none" stroke-linejoin="miter"/>
<text transform="translate(493.74 494.80) rotate(-90) scale(0.78 1)" font-size="9.6" text-anchor="middle" fill="#231815">11.5</text>
<line x1="480.80" y1="510.50" x2="540.00" y2="510.50" stroke="#231815" stroke-width="1.1"/>
<line x1="480.80" y1="520.50" x2="746.50" y2="520.50" stroke="#231815" stroke-width="0.7"/>
<text transform="translate(479.54 514.80) rotate(-90) scale(0.83 1)" font-size="9.6" text-anchor="middle" fill="#231815">13</text>
<line x1="553.00" y1="434.60" x2="553.00" y2="493.00" stroke="#231815" stroke-width="1.5"/>
<rect x="553.00" y="434.40" width="3.90" height="4.40" fill="#231815" stroke="none" stroke-width="0.6" />
<rect x="554.20" y="435.60" width="1.30" height="1.50" fill="#fff" stroke="none" stroke-width="0.6" />
<line x1="555.40" y1="442.50" x2="560.20" y2="442.50" stroke="#231815" stroke-width="0.9"/>
<line x1="567.60" y1="442.50" x2="570.80" y2="442.50" stroke="#231815" stroke-width="0.9"/>
<line x1="560.50" y1="433.50" x2="560.50" y2="442.40" stroke="#231815" stroke-width="0.9"/>
<line x1="567.50" y1="433.50" x2="567.50" y2="442.40" stroke="#231815" stroke-width="0.9"/>
<line x1="560.80" y1="442.00" x2="567.20" y2="434.20" stroke="#231815" stroke-width="0.7"/>
<path d="M555.20 443.20 L571.90 443.20 L571.90 450.00 L555.20 450.00 Z" stroke="#231815" stroke-width="0.9" fill="none" stroke-linejoin="miter"/>
<line x1="557.00" y1="449.60" x2="569.60" y2="443.80" stroke="#231815" stroke-width="0.7"/>
<path d="M570.8 434.0 L572.6 436.6 L574.2 434.4 H578.8" stroke="#231815" stroke-width="1.1" fill="none" />
<line x1="571.50" y1="436.00" x2="571.50" y2="450.60" stroke="#231815" stroke-width="0.9"/>
<line x1="553.00" y1="450.50" x2="578.80" y2="450.50" stroke="#231815" stroke-width="1.2"/>
<path d="M568.2 451.0 v2.4 q1.6 1.6 3.2 0 v-2.4" stroke="#231815" stroke-width="0.8" fill="none" />
<line x1="578.50" y1="433.10" x2="578.50" y2="473.80" stroke="#231815" stroke-width="1.2"/>
<path d="M553.6 451.2 V491.4 M553.8 491.6 Q563.0 493.6 566.2 491.4 Q568.4 489.6 568.6 487.0 Q569.2 483.6 572.0 483.4 L578.0 483.2 V474.0" stroke="#231815" stroke-width="1" fill="none" />
<circle cx="571.30" cy="487.40" r="0.90" fill="#fff" stroke="#231815" stroke-width="0.7"/>
<circle cx="553.90" cy="491.40" r="1.00" fill="#231815" stroke="#231815" stroke-width="0.3"/>
<path d="M552.6 493.0 Q552.2 498.0 551.4 503.6 L550.6 506.9 H575.0" stroke="#231815" stroke-width="1.2" fill="none" />
<line x1="539.50" y1="502.50" x2="539.50" y2="510.60" stroke="#231815" stroke-width="1"/>
<path d="M540.0 510.6 H542.6 Q546.6 509.0 548.4 505.6 L550.8 503.4" stroke="#231815" stroke-width="1" fill="none" />
<path d="M547.6 502.5 Q548.8 503.4 549.4 505.6" stroke="#231815" stroke-width="0.8" fill="none" />
<circle cx="549.40" cy="506.40" r="0.90" fill="#fff" stroke="#231815" stroke-width="0.7"/>
<line x1="578.80" y1="473.50" x2="595.00" y2="473.50" stroke="#231815" stroke-width="1.1"/>
<line x1="595.50" y1="472.00" x2="595.50" y2="498.80" stroke="#231815" stroke-width="1.1"/>
<line x1="576.00" y1="484.60" x2="576.00" y2="498.80" stroke="#231815" stroke-width="1.3"/>
<path d="M585.0 473.6 v2.6 h1.2 v-1.8 h1.2 v2.2 h1.6 v-2.6 h1.4 v2.4 h1.2 v-2.8" stroke="#231815" stroke-width="0.8" fill="#231815" />
<line x1="590.00" y1="471.00" x2="745.00" y2="471.00" stroke="#231815" stroke-width="1.4"/>
<rect x="596.30" y="472.20" width="99.30" height="9.30" fill="#a3a09f" stroke="none" stroke-width="0.6" />
<line x1="596.30" y1="473.50" x2="695.60" y2="473.50" stroke="#5a5655" stroke-width="1.1"/>
<line x1="596.30" y1="477.50" x2="695.60" y2="477.50" stroke="#6a6665" stroke-width="0.9"/>
<line x1="596.30" y1="480.50" x2="695.60" y2="480.50" stroke="#5a5655" stroke-width="1"/>
<line x1="601.00" y1="473.60" x2="601.00" y2="485.20" stroke="#231815" stroke-width="1.3"/>
<line x1="605.50" y1="481.60" x2="605.50" y2="498.80" stroke="#231815" stroke-width="0.7"/>
<line x1="653.50" y1="482.40" x2="607.50" y2="498.60" stroke="#231815" stroke-width="0.7"/>
<line x1="575.00" y1="499.00" x2="657.30" y2="499.00" stroke="#231815" stroke-width="1.3"/>
<line x1="657.30" y1="498.50" x2="746.50" y2="498.50" stroke="#55504f" stroke-width="0.7"/>
<rect x="574.80" y="498.80" width="1.90" height="94.00" fill="#231815" stroke="none" stroke-width="0.6" />
<rect x="576.70" y="499.60" width="7.70" height="29.90" fill="#b9b6b5" stroke="none" stroke-width="0.6" />
<path d="M577.50 499.60 V529.50 M579.50 499.60 V529.50 M581.50 499.60 V529.50 M583.50 499.60 V529.50" stroke="#77716f" stroke-width="0.75" fill="none" />
<line x1="576.70" y1="517.00" x2="597.40" y2="517.00" stroke="#5f5a59" stroke-width="1.4"/>
<line x1="584.40" y1="530.50" x2="657.30" y2="530.50" stroke="#231815" stroke-width="1"/>
<line x1="656.60" y1="499.40" x2="585.40" y2="529.60" stroke="#231815" stroke-width="0.7"/>
<line x1="584.50" y1="530.00" x2="584.50" y2="592.60" stroke="#6a6665" stroke-width="1"/>
<line x1="657.50" y1="481.40" x2="657.50" y2="592.60" stroke="#231815" stroke-width="1.2"/>
<line x1="584.30" y1="551.50" x2="657.30" y2="551.50" stroke="#231815" stroke-width="1"/>
<line x1="584.60" y1="551.80" x2="626.00" y2="593.40" stroke="#231815" stroke-width="0.9"/>
<line x1="657.00" y1="551.80" x2="615.60" y2="593.40" stroke="#231815" stroke-width="0.9"/>
<clipPath id="xh7"><path d="M657.3 481.5 H695.8 V518.5 l-4 3.8 l-4.2 -3.0 l-4 3.2 l-4.2 -3.2 l-4 3.2 l-4.2 -3.2 l-4 3.2 l-4.2 -3.2 l-4 3.2 l-1.9 -1.2 Z"/></clipPath>
<path d="M564.70 481.5 l60 60 M564.70 481.5 l-60 60 M572.80 481.5 l60 60 M572.80 481.5 l-60 60 M580.90 481.5 l60 60 M580.90 481.5 l-60 60 M589.00 481.5 l60 60 M589.00 481.5 l-60 60 M597.10 481.5 l60 60 M597.10 481.5 l-60 60 M605.20 481.5 l60 60 M605.20 481.5 l-60 60 M613.30 481.5 l60 60 M613.30 481.5 l-60 60 M621.40 481.5 l60 60 M621.40 481.5 l-60 60 M629.50 481.5 l60 60 M629.50 481.5 l-60 60 M637.60 481.5 l60 60 M637.60 481.5 l-60 60 M645.70 481.5 l60 60 M645.70 481.5 l-60 60 M653.80 481.5 l60 60 M653.80 481.5 l-60 60 M661.90 481.5 l60 60 M661.90 481.5 l-60 60 M670.00 481.5 l60 60 M670.00 481.5 l-60 60 M678.10 481.5 l60 60 M678.10 481.5 l-60 60 M686.20 481.5 l60 60 M686.20 481.5 l-60 60 M694.30 481.5 l60 60 M694.30 481.5 l-60 60 M702.40 481.5 l60 60 M702.40 481.5 l-60 60 M710.50 481.5 l60 60 M710.50 481.5 l-60 60 M718.60 481.5 l60 60 M718.60 481.5 l-60 60 M726.70 481.5 l60 60 M726.70 481.5 l-60 60 M734.80 481.5 l60 60 M734.80 481.5 l-60 60 M742.90 481.5 l60 60 M742.90 481.5 l-60 60 M751.00 481.5 l60 60 M751.00 481.5 l-60 60 M759.10 481.5 l60 60 M759.10 481.5 l-60 60 M767.20 481.5 l60 60 M767.20 481.5 l-60 60" stroke="#231815" stroke-width="1" fill="none" clip-path="url(#xh7)"/>
<path d="M657.3 522.6 l1.9 -1.2 l4 3.2 l4.2 -3.2 l4 3.2 l4.2 -3.2 l4 3.2 l4.2 -3.2 l4 3.2 l4.2 -3.0 l2 1.6" stroke="#55504f" stroke-width="0.7" fill="none" />
<line x1="657.30" y1="522.50" x2="688.50" y2="522.50" stroke="#231815" stroke-width="0.9"/>
<line x1="688.50" y1="521.00" x2="688.50" y2="585.00" stroke="#231815" stroke-width="0.9"/>
<line x1="657.30" y1="584.50" x2="688.50" y2="584.50" stroke="#231815" stroke-width="0.9"/>
<line x1="688.00" y1="523.00" x2="658.40" y2="583.80" stroke="#231815" stroke-width="0.7"/>
<line x1="555.50" y1="517.50" x2="555.50" y2="592.60" stroke="#231815" stroke-width="0.7"/>
<line x1="563.50" y1="517.50" x2="563.50" y2="592.60" stroke="#6a6665" stroke-width="0.9"/>
<line x1="574.60" y1="529.40" x2="563.80" y2="555.00" stroke="#231815" stroke-width="0.7"/>
<line x1="563.20" y1="555.50" x2="574.80" y2="555.50" stroke="#77716f" stroke-width="1.1"/>
<line x1="717.50" y1="432.50" x2="717.50" y2="480.20" stroke="#231815" stroke-width="0.7"/>
<text transform="translate(715.74 452.20) rotate(-90) scale(0.83 1)" font-size="9.6" text-anchor="middle" fill="#231815">55</text>
<text transform="translate(715.84 477.80) rotate(-90) scale(0.83 1)" font-size="9.6" text-anchor="middle" fill="#231815">3</text>
<line x1="746.50" y1="474.00" x2="746.50" y2="519.80" stroke="#55504f" stroke-width="0.7"/>
<text transform="translate(745.34 485.30) rotate(-90) scale(0.83 1)" font-size="9.6" text-anchor="middle" fill="#231815">40</text>
<text transform="translate(745.24 509.80) rotate(-90) scale(0.83 1)" font-size="9.6" text-anchor="middle" fill="#231815">30</text>
<line x1="717.50" y1="529.30" x2="717.50" y2="607.50" stroke="#231815" stroke-width="0.75"/>
<text transform="translate(714.10 607.20) rotate(-90) scale(0.761 1)" font-size="9.5" fill="#231815">防湿気密フィルム(別途)</text>
<line x1="717.40" y1="529.30" x2="677.50" y2="482.00" stroke="#231815" stroke-width="0.85"/>
<line x1="717.40" y1="529.30" x2="688.20" y2="521.00" stroke="#231815" stroke-width="0.7"/>
<rect x="553.70" y="508.10" width="9.40" height="8.80" fill="#39302f" stroke="none" stroke-width="0.6" />
<path d="M556.05 508.10 V516.90 M558.40 508.10 V516.90 M560.75 508.10 V516.90 M553.70 512.50 H563.10" stroke="#a9a5a4" stroke-width="0.45" fill="none" />
<rect x="553.70" y="508.10" width="9.40" height="8.80" fill="none" stroke="#231815" stroke-width="0.7" />
<circle cx="569.00" cy="513.70" r="5.60" fill="#fff" stroke="#231815" stroke-width="1.25"/>
<circle cx="569.00" cy="513.70" r="2.35" fill="#fff" stroke="#231815" stroke-width="0.7"/>
<path d="M571.70 514.42 L573.98 515.03 M569.72 516.40 L570.33 518.68 M567.02 515.68 L565.36 517.34 M566.30 512.98 L564.02 512.37 M568.28 511.00 L567.67 508.72 M570.98 511.72 L572.64 510.06" stroke="#4a4544" stroke-width="0.8" fill="none" />
<line x1="481.50" y1="532.50" x2="481.50" y2="585.60" stroke="#231815" stroke-width="0.75"/>
<text transform="translate(479.10 585.30) rotate(-90) scale(0.714 1)" font-size="9.5" fill="#231815">シーリング(別途)</text>
<line x1="481.50" y1="532.50" x2="553.60" y2="516.60" stroke="#231815" stroke-width="0.7"/>
<line x1="495.50" y1="544.40" x2="495.50" y2="615.40" stroke="#231815" stroke-width="0.75"/>
<text transform="translate(493.00 615.10) rotate(-90) scale(0.761 1)" font-size="9.5" fill="#231815">防水テープ(別売部品)</text>
<line x1="495.40" y1="544.40" x2="574.60" y2="526.90" stroke="#231815" stroke-width="0.7"/>
<line x1="510.50" y1="556.30" x2="510.50" y2="641.00" stroke="#231815" stroke-width="0.75"/>
<text transform="translate(508.00 640.70) rotate(-90) scale(0.754 1)" font-size="9.5" fill="#231815">先張防水シート(別売部品)</text>
<line x1="510.40" y1="556.30" x2="574.60" y2="541.30" stroke="#231815" stroke-width="0.7"/>
<line x1="525.50" y1="567.00" x2="525.50" y2="636.50" stroke="#231815" stroke-width="0.75"/>
<text transform="translate(522.60 636.20) rotate(-90) scale(0.744 1)" font-size="9.5" fill="#231815">透湿防水シート(別途)</text>
<line x1="525.00" y1="567.00" x2="574.60" y2="555.00" stroke="#231815" stroke-width="0.7"/>
</svg>
</body></html>
